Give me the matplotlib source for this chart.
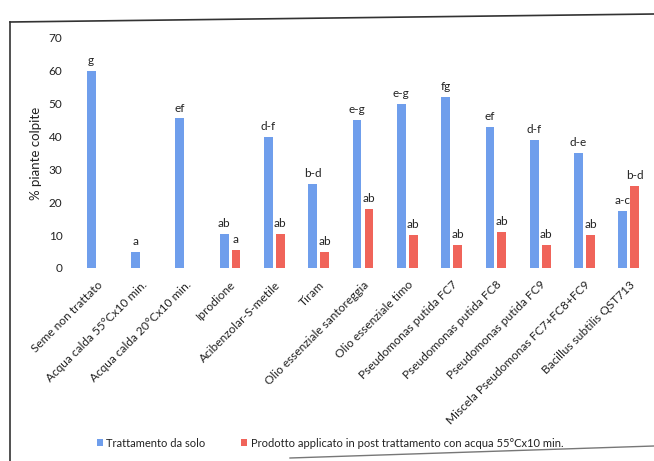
import numpy as np
import matplotlib
matplotlib.use("Agg")
import matplotlib.pyplot as plt
from matplotlib.lines import Line2D
from matplotlib.patches import Patch

plt.rcParams['font.family'] = ['Lato', 'DejaVu Sans']

categories = ["Seme non trattato", "Acqua calda 55°Cx10 min.", "Acqua calda 20°Cx10 min.",
              "Iprodione", "Acibenzolar-S-metile", "Tiram", "Olio essenziale santoreggia",
              "Olio essenziale timo", "Pseudomonas putida FC7", "Pseudomonas putida FC8",
              "Pseudomonas putida FC9", "Miscela Pseudomonas FC7+FC8+FC9",
              "Bacillus subtilis QST713"]
solo = [60, 5, 45.5, 10.5, 40, 25.5, 45, 50, 52, 43, 39, 35, 17.5]
post = [np.nan, np.nan, np.nan, 5.4, 10.5, 5, 18, 10, 7, 11, 7, 10, 25]
solo_letters = ["g", "a", "ef", "ab", "d-f", "b-d", "e-g", "e-g", "fg", "ef", "d-f", "d-e", "a-c"]
post_letters = ["", "", "", "a", "ab", "ab", "ab", "ab", "ab", "ab", "ab", "ab", "b-d"]
series_names = ["Trattamento da solo",
                "Prodotto applicato in post trattamento con acqua 55°Cx10 min."]
yticks = [0, 10, 20, 30, 40, 50, 60, 70]

blue = "#6f9eec"
red = "#f0645a"
txt = "#222222"

W, H = 654, 461
fig = plt.figure(figsize=(W / 100, H / 100), dpi=100)
ax = fig.add_axes([75 / W, 1 - 268 / H, (651 - 75) / W, (268 - 38) / H])

x = np.arange(len(categories))
bw = 0.2
off = 0.135
ax.bar(x - off, solo, bw, color=blue)
ax.bar(x + off, post, bw, color=red)

for xi, v, t in zip(x, solo, solo_letters):
    if t:
        ax.annotate(t, (xi - off, v), xytext=(0, 3.5), textcoords="offset points",
                    ha="center", va="bottom", fontsize=8.5, color=txt)
for xi, v, t in zip(x, post, post_letters):
    if t and not np.isnan(v):
        ax.annotate(t, (xi + off, v), xytext=(0, 3.5), textcoords="offset points",
                    ha="center", va="bottom", fontsize=8.5, color=txt)

ax.set_xlim(-0.5, len(categories) - 0.5)
ax.set_ylim(0, 70)
ax.set_yticks(yticks)
ax.set_yticklabels([str(t) for t in yticks], fontsize=8.5, color=txt)
ax.set_xticks(x)
ax.set_xticklabels(categories, rotation=45, ha="right", va="top",
                   rotation_mode="anchor", fontsize=8.6, color=txt)
ax.tick_params(axis="both", length=0)
ax.tick_params(axis="y", pad=9)
ax.tick_params(axis="x", pad=8)
for s in ax.spines.values():
    s.set_visible(False)
ax.set_ylabel("% piante colpite", fontsize=9.5, color=txt, labelpad=5)

handles = [Patch(facecolor=blue, edgecolor="none"), Patch(facecolor=red, edgecolor="none")]
fig.legend(handles, series_names, loc="center", bbox_to_anchor=(330 / W, 1 - 443 / H),
           ncol=2, frameon=False, fontsize=8, handlelength=0.55, handleheight=0.55,
           handletextpad=0.3, columnspacing=3.2, labelcolor=txt)

# scanned frame around the chart
fig.add_artist(Line2D([10 / W, 10 / W], [1 - 22 / H, 0], transform=fig.transFigure,
                      color="#333333", lw=1.2))
fig.add_artist(Line2D([10 / W, 1], [1 - 22 / H, 1 - 14 / H], transform=fig.transFigure,
                      color="#333333", lw=1.2))
fig.add_artist(Line2D([290 / W, 1], [1 - 458 / H, 1 - 446 / H], transform=fig.transFigure,
                      color="#777777", lw=1.0))

fig.savefig("out.png", dpi=100)
